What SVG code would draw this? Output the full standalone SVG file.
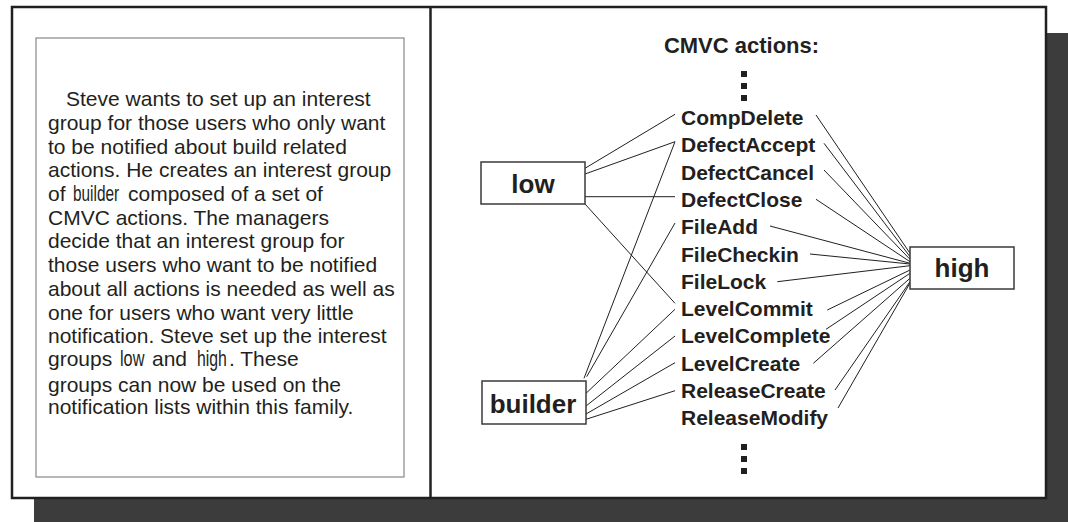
<svg xmlns="http://www.w3.org/2000/svg" width="1068" height="522" viewBox="0 0 1068 522">
<style>
.body{font-family:"Liberation Sans",Arial,sans-serif;font-size:21px;fill:#231f20}
.narrow{font-family:"Liberation Sans",Arial,sans-serif;font-size:22px}
.lbl{font-family:"Liberation Sans",Arial,sans-serif;font-size:21px;font-weight:bold;fill:#231f20}
.node rect{fill:#fff;stroke:#3a3a3a;stroke-width:1.5}
.node text{font-family:"Liberation Sans",Arial,sans-serif;font-size:26px;font-weight:bold;fill:#231f20;text-anchor:middle}
.conn line{stroke:#231f20;stroke-width:1}
.dot{fill:#231f20}
</style>
<rect id="shadow" x="34" y="33" width="1040" height="495" fill="#3c3c3c"/>
<rect id="frame" x="12" y="7" width="1034" height="491" fill="#fff" stroke="#231f20" stroke-width="2.5"/>
<line x1="430.5" y1="7" x2="430.5" y2="498" stroke="#231f20" stroke-width="2.5"/>
<rect id="textbox" x="36" y="38" width="368" height="439" fill="#fff" stroke="#888" stroke-width="1.2"/>
<g id="story" class="body">
<text x="66" y="106">Steve wants to set up an interest</text>
<text x="48" y="130">group for those users who only want</text>
<text x="48" y="154">to be notified about build related</text>
<text x="48" y="177">actions. He creates an interest group</text>
<text x="48" y="201">of</text>
<text class="narrow" transform="translate(73,201) scale(0.7,1)">builder</text>
<text x="128" y="201">composed of a set of</text>
<text x="48" y="225">CMVC actions. The managers</text>
<text x="48" y="248">decide that an interest group for</text>
<text x="48" y="272">those users who want to be notified</text>
<text x="48" y="296">about all actions is needed as well as</text>
<text x="48" y="320">one for users who want very little</text>
<text x="48" y="343">notification. Steve set up the interest</text>
<text x="48" y="366">groups</text>
<text class="narrow" transform="translate(120,366) scale(0.74,1)">low</text>
<text x="152" y="366">and</text>
<text class="narrow" transform="translate(197,366) scale(0.72,1)">high</text>
<text x="229" y="366">. These</text>
<text x="48" y="392">groups can now be used on the</text>
<text x="48" y="414">notification lists within this family.</text>
</g>
<text class="lbl" x="741.5" y="53" text-anchor="middle" style="font-size:22px">CMVC actions:</text>
<g id="dots-top" class="dot">
<rect x="741" y="71" width="6" height="6"/>
<rect x="741" y="83" width="6" height="6"/>
<rect x="741" y="95" width="6" height="6"/>
</g>
<g id="dots-bottom" class="dot">
<rect x="741" y="444" width="6" height="6"/>
<rect x="741" y="456" width="6" height="6"/>
<rect x="741" y="468" width="6" height="6"/>
</g>
<g id="actions" class="lbl">
<text id="a-CompDelete" x="681" y="125">CompDelete</text>
<text id="a-DefectAccept" x="681" y="152.3">DefectAccept</text>
<text id="a-DefectCancel" x="681" y="179.6">DefectCancel</text>
<text id="a-DefectClose" x="681" y="206.9">DefectClose</text>
<text id="a-FileAdd" x="681" y="234.2">FileAdd</text>
<text id="a-FileCheckin" x="681" y="261.5">FileCheckin</text>
<text id="a-FileLock" x="681" y="288.8">FileLock</text>
<text id="a-LevelCommit" x="681" y="316.1">LevelCommit</text>
<text id="a-LevelComplete" x="681" y="343.4">LevelComplete</text>
<text id="a-LevelCreate" x="681" y="370.7">LevelCreate</text>
<text id="a-ReleaseCreate" x="681" y="398">ReleaseCreate</text>
<text id="a-ReleaseModify" x="681" y="425.3">ReleaseModify</text>
</g>
<g id="connectors" class="conn">
<line x1="585" y1="168.3" x2="675" y2="114.3"/>
<line x1="585" y1="174" x2="675" y2="141.7"/>
<line x1="585" y1="196.7" x2="675" y2="196.7"/>
<line x1="585" y1="204" x2="675" y2="303.3"/>
<line x1="584" y1="378.3" x2="675" y2="141.7"/>
<line x1="586.7" y1="376.7" x2="675" y2="223"/>
<line x1="586" y1="393.3" x2="675" y2="309.3"/>
<line x1="586" y1="406" x2="675" y2="336"/>
<line x1="586" y1="414" x2="675" y2="362.7"/>
<line x1="586" y1="419.3" x2="675" y2="390.7"/>
<line x1="816" y1="115" x2="910" y2="253.3"/>
<line x1="824" y1="143.3" x2="910" y2="256.7"/>
<line x1="824" y1="170" x2="910" y2="259.3"/>
<line x1="816" y1="199.3" x2="910" y2="261.7"/>
<line x1="770" y1="226" x2="910" y2="263.3"/>
<line x1="810" y1="254" x2="910" y2="264"/>
<line x1="777.3" y1="281.7" x2="910" y2="265.7"/>
<line x1="827.3" y1="310" x2="910" y2="270"/>
<line x1="826" y1="329.3" x2="910" y2="273.3"/>
<line x1="813.3" y1="363.3" x2="910" y2="278.3"/>
<line x1="835" y1="390" x2="910" y2="281.7"/>
<line x1="838" y1="408" x2="910" y2="283"/>
</g>
<g id="low" class="node">
<rect x="481" y="162" width="104" height="42"/>
<text x="533" y="193">low</text>
</g>
<g id="builder" class="node">
<rect x="482" y="381" width="104" height="43"/>
<text x="533" y="413">builder</text>
</g>
<g id="high" class="node">
<rect x="910" y="247" width="104" height="42"/>
<text x="962" y="277">high</text>
</g>
</svg>
